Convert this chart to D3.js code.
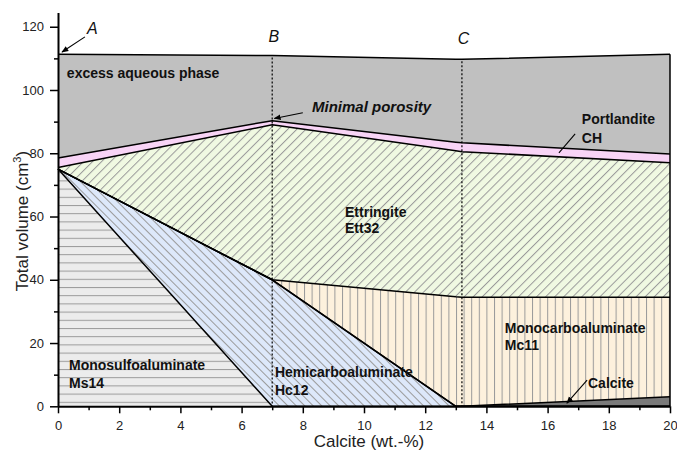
<!DOCTYPE html>
<html><head><meta charset="utf-8">
<script src="https://cdn.jsdelivr.net/npm/d3@7"></script>
<style>
html,body{margin:0;padding:0;background:#fff;}
svg{display:block;font-family:Arial,"Liberation Sans",sans-serif;}
</style></head>
<body>
<svg id="chart" width="677" height="450"></svg>
<script>
// ---- data ----
const calciteWt = [0, 7, 13, 13.2, 20];           // x positions (wt.-%)
const phases = ["Ms14", "Hc12", "Calcite", "Mc11", "Ett32", "CH", "Water"];
const Ms14    = [75, 0, 0, 0, 0];
const Hc12    = [0, 40, 0, 0, 0];
const Calcite = [0, 0, 0, 0, 3];
const Mc11    = [0, 0, 34.6, 34.5, 31.5];
const Ett32   = [0.5, 49, 46.2, 46, 42.5];
const CH      = [3, 1.3, 2.7, 2.8, 2.8];
const Water   = [32.8, 20.6, 26.25, 26.4, 31.5];
const xTicks = [0, 2, 4, 6, 8, 10, 12, 14, 16, 18, 20];
const yTicks = [0, 20, 40, 60, 80, 100, 120];
const markers = [{name: "B", x: 7}, {name: "C", x: 13.2}];

const table = calciteWt.map((x, i) => ({x, Ms14: Ms14[i], Hc12: Hc12[i], Calcite: Calcite[i],
  Mc11: Mc11[i], Ett32: Ett32[i], CH: CH[i], Water: Water[i]}));

const svg = d3.select("#chart");
const x = d3.scaleLinear().domain([0, 20]).range([58, 670]);
const y = d3.scaleLinear().domain([0, 124.5]).range([406.3, 12.5]);

// ---- patterns ----
const defs = svg.append("defs");
function hatch(id, bg, angle, spacing) {
  const p = defs.append("pattern").attr("id", id).attr("patternUnits", "userSpaceOnUse")
    .attr("width", spacing).attr("height", spacing)
    .attr("patternTransform", `rotate(${angle})`);
  p.append("rect").attr("width", spacing).attr("height", spacing).attr("fill", bg);
  p.append("line").attr("x1", 0.5).attr("y1", 0).attr("x2", 0.5).attr("y2", spacing)
    .attr("stroke", "#9a9a9a").attr("stroke-width", 1);
}
hatch("pMs", "#ececec", 90, 8.2);
hatch("pHc", "#dde8fa", -45, 6);
hatch("pMc", "#fdf1dd", 0, 7.6);
hatch("pEtt", "#f0f9e2", 45, 6.4);
const fills = {Ms14: "url(#pMs)", Hc12: "url(#pHc)", Calcite: "#7a7a7a", Mc11: "url(#pMc)",
  Ett32: "url(#pEtt)", CH: "#f8d4f6", Water: "#c0c0c0"};

const stack = d3.stack().keys(phases)(table);
const area = d3.area().x(d => x(d.data.x)).y0(d => y(d[0])).y1(d => y(d[1]));
const line = d3.line().x(d => x(d.data.x)).y(d => y(d[1]));

svg.append("g").selectAll("path").data(stack).join("path")
  .attr("d", area).attr("fill", d => fills[d.key]).attr("stroke", "none");

// dotted marker lines
const waterTopAt = xv => { const s = stack[stack.length - 1]; const i = calciteWt.indexOf(xv); return s[i][1]; };
svg.append("g").selectAll("line").data(markers).join("line")
  .attr("x1", d => x(d.x)).attr("x2", d => x(d.x))
  .attr("y1", d => y(waterTopAt(d.x)) + 2).attr("y2", y(0))
  .attr("stroke", "#000").attr("stroke-width", 1.2).attr("stroke-dasharray", "2,2");

// boundary lines
svg.append("g").selectAll("path").data(stack).join("path")
  .attr("d", line).attr("fill", "none").attr("stroke", "#000").attr("stroke-width", 1.5)
  .attr("stroke-linejoin", "round");
// right edge
const last = stack[stack.length - 1][calciteWt.length - 1];
svg.append("line").attr("x1", x(20)).attr("x2", x(20)).attr("y1", y(0)).attr("y2", y(last[1]))
  .attr("stroke", "#000").attr("stroke-width", 1.5);

// ---- axes ----
const axisFont = 13;
const gx = svg.append("g").attr("transform", `translate(0,${y(0)})`)
  .call(d3.axisBottom(x).tickValues(xTicks).tickSize(7).tickSizeOuter(0).tickPadding(7).tickFormat(d3.format("d")));
const gxm = svg.append("g").attr("transform", `translate(0,${y(0)})`)
  .call(d3.axisBottom(x).tickValues(d3.range(1, 20, 2)).tickSize(4).tickSizeOuter(0).tickFormat(""));
gxm.select(".domain").remove();
const gy = svg.append("g").attr("transform", `translate(${x(0)},0)`)
  .call(d3.axisLeft(y).tickValues(yTicks).tickSize(8).tickSizeOuter(0).tickPadding(6).tickFormat(d3.format("d")));
const gym = svg.append("g").attr("transform", `translate(${x(0)},0)`)
  .call(d3.axisLeft(y).tickValues(d3.range(10, 121, 20)).tickSize(4).tickSizeOuter(0).tickFormat(""));
gym.select(".domain").remove();
[gx, gy, gxm, gym].forEach(g => {
  g.selectAll(".domain").attr("stroke", "#000").attr("stroke-width", 2);
  g.selectAll(".tick line").attr("stroke", "#000").attr("stroke-width", 1.5);
  g.selectAll(".tick text").attr("font-size", axisFont).attr("fill", "#222")
    .attr("font-family", 'Arial,"Liberation Sans",sans-serif');
});

svg.append("text").attr("x", 369).attr("y", 447).attr("text-anchor", "middle")
  .attr("font-size", 17).attr("fill", "#222").text("Calcite (wt.-%)");
const yl = svg.append("text").attr("transform", `translate(27.5,221) rotate(-90)`)
  .attr("text-anchor", "middle").attr("font-size", 17).attr("fill", "#222");
yl.append("tspan").text("Total volume (cm");
yl.append("tspan").attr("font-size", 11).attr("dy", -7).text("3");
yl.append("tspan").attr("dy", 7).text(")");

// ---- annotations ----
const ann = svg.append("g").attr("fill", "#111");
function label(txt, xv, yv, opts = {}) {
  return ann.append("text").attr("x", x(xv)).attr("y", y(yv))
    .attr("font-size", opts.size || 14).attr("font-weight", opts.weight || "bold")
    .attr("font-style", opts.style || "normal").attr("text-anchor", opts.anchor || "start").text(txt);
}
label("excess aqueous phase", 0.29, 103.8);
label("Minimal porosity", 8.3, 93.0, {style: "italic", size: 15});
label("Portlandite", 17.12, 89.3);
label("CH", 17.12, 83.3);
label("Ettringite", 9.38, 59.9);
label("Ett32", 9.38, 54.8);
label("Monocarboaluminate", 14.6, 23.3);
label("Mc11", 14.6, 17.8);
label("Hemicarboaluminate", 7.09, 9.2);
label("Hc12", 7.09, 3.6);
label("Monosulfoaluminate", 0.36, 11.5);
label("Ms14", 0.36, 5.8);
label("Calcite", 17.32, 5.8);
label("A", 0.95, 117.7, {weight: "normal", style: "italic", size: 16});
markers.forEach(m => label(m.name, m.x + 0.05, m.name === "B" ? 115.2 : 114.5,
  {weight: "normal", style: "italic", size: 16, anchor: "middle"}));

defs.append("marker").attr("id", "arr").attr("viewBox", "0 0 10 10").attr("refX", 9).attr("refY", 5)
  .attr("markerWidth", 7).attr("markerHeight", 7).attr("markerUnits", "userSpaceOnUse").attr("orient", "auto")
  .append("path").attr("d", "M0,1 L10,5 L0,9 z").attr("fill", "#000");
function arrow(x1, y1, x2, y2, head) {
  const l = svg.append("line").attr("x1", x(x1)).attr("y1", y(y1)).attr("x2", x(x2)).attr("y2", y(y2))
    .attr("stroke", "#000").attr("stroke-width", 1.1);
  if (head) l.attr("marker-end", "url(#arr)");
}
arrow(0.88, 116.8, 0.13, 112.0, true);
arrow(8.0, 92.8, 7.07, 91.0, true);
arrow(16.9, 86.1, 16.37, 80.1, false);
arrow(17.29, 8.3, 16.63, 1.0, true);
</script>
</body></html>
